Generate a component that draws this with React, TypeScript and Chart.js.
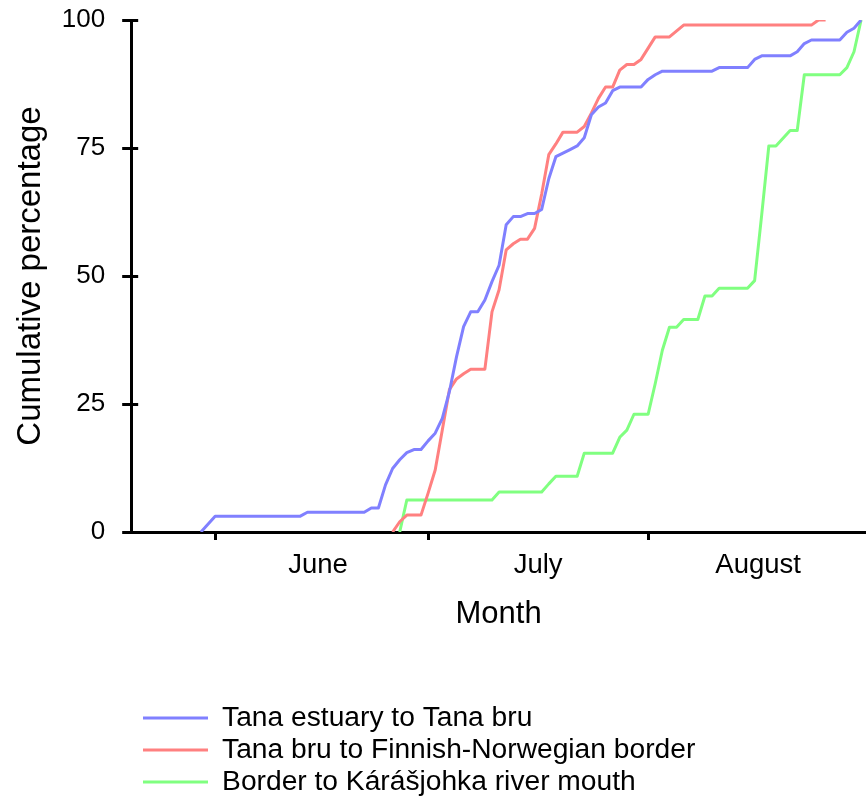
import React, { useEffect, useRef } from 'react';
import { Chart, registerables } from 'chart.js';

Chart.register(...registerables);

// ---- Data (days counted from 1 June = 0) ----
const monthStartDays = [0, 30, 61];
const monthLabelDays = [14.5, 45.5, 76.5];
const monthNames = ['June', 'July', 'August'];
const yTickValues = [0, 25, 50, 75, 100];

const seriesNames = [
  'Tana estuary to Tana bru',
  'Tana bru to Finnish-Norwegian border',
  'Border to Kárášjohka river mouth',
];
const seriesColors = ['#8080ff', '#ff8080', '#80ff80'];

const estuaryDays = [-2, 0, 12, 13, 21, 22, 23, 24, 25, 26, 27, 28, 29, 30, 31, 32, 33, 34, 35, 36, 37, 38, 39, 40, 41, 42, 43, 44, 45, 46, 47, 48, 49, 50, 51, 52, 53, 54, 55, 56, 57, 60, 61, 62, 63, 70, 71, 75, 76, 77, 81, 82, 83, 84, 88, 89, 90, 91];
const estuaryPct = [0, 3.1, 3.1, 3.85, 3.85, 4.7, 4.7, 9.2, 12.4, 14.1, 15.5, 16.1, 16.1, 17.8, 19.3, 22.2, 27.4, 34.2, 40.1, 43.0, 43.0, 45.3, 48.9, 52.1, 60.0, 61.6, 61.6, 62.2, 62.2, 63.0, 69.0, 73.3, 74.0, 74.7, 75.4, 77.0, 81.5, 83.0, 83.8, 86.2, 86.9, 86.9, 88.4, 89.3, 90.0, 90.0, 90.7, 90.7, 92.3, 93.0, 93.0, 93.8, 95.4, 96.1, 96.1, 97.6, 98.4, 100];

const bruDays = [25, 26, 27, 29, 30, 31, 32, 33, 34, 35, 36, 38, 39, 40, 41, 42, 43, 44, 45, 46, 47, 48, 49, 51, 52, 53, 54, 55, 56, 57, 58, 59, 60, 61, 62, 64, 66, 84, 85, 86];
const bruPct = [0, 2.0, 3.3, 3.3, 7.6, 12.1, 19.9, 27.8, 29.9, 30.9, 31.8, 31.8, 43.0, 47.3, 55.1, 56.3, 57.2, 57.2, 59.3, 66.0, 73.7, 75.8, 78.1, 78.1, 79.2, 81.8, 84.7, 86.9, 86.9, 90.2, 91.3, 91.3, 92.3, 94.5, 96.7, 96.7, 99.0, 99.0, 100, 100];

const borderDays = [26, 27, 39, 40, 46, 47, 48, 51, 52, 56, 57, 58, 59, 61, 62, 63, 64, 65, 66, 68, 69, 70, 71, 75, 76, 77, 78, 79, 81, 82, 83, 88, 89, 90, 91];
const borderPct = [0, 6.25, 6.25, 7.8, 7.8, 9.4, 10.9, 10.9, 15.4, 15.4, 18.5, 19.9, 23.0, 23.0, 29.0, 35.5, 40.0, 40.0, 41.5, 41.5, 46.1, 46.1, 47.6, 47.6, 49.1, 62.0, 75.4, 75.4, 78.4, 78.4, 89.3, 89.3, 90.7, 93.8, 100];

// ---- Layout constants ----
const X_MIN = -11.83;
const X_MAX = 91.69;
const FONT = "'Liberation Sans', Arial, Helvetica, sans-serif";
const LEGEND_LINE_LEFT = 143;
const LEGEND_FIRST_ROW_CENTER = 718;

const toPoints = (xs: number[], ys: number[]) => xs.map((x, i) => ({ x, y: ys[i] }));

const legendPlacement = {
  id: 'legendPlacement',
  afterLayout(chart: any) {
    const lg = chart.legend;
    if (!lg) return;
    const pad = lg.options.labels.padding;
    const fs = lg.options.labels.font.size;
    lg.left = LEGEND_LINE_LEFT - pad;
    lg.top = LEGEND_FIRST_ROW_CENTER - pad - fs / 2;
  },
};

const innerYTicks = {
  id: 'innerYTicks',
  afterDraw(chart: any) {
    const y = chart.scales.y;
    const { left } = chart.chartArea;
    const ctx = chart.ctx;
    ctx.save();
    ctx.strokeStyle = '#000';
    ctx.lineWidth = 3;
    ctx.beginPath();
    y.ticks.forEach((t: any) => {
      const p = y.getPixelForValue(t.value);
      const py = Math.round(p - 1.5) + 1.5;
      ctx.moveTo(left, py);
      ctx.lineTo(left + 7, py);
    });
    ctx.stroke();
    ctx.restore();
  },
};

export default function App() {
  const ref = useRef<HTMLCanvasElement>(null);

  useEffect(() => {
    const canvas = ref.current;
    if (!canvas) return;
    Chart.defaults.font.family = FONT;
    Chart.defaults.color = '#000';

    const dayLists = [estuaryDays, bruDays, borderDays];
    const pctLists = [estuaryPct, bruPct, borderPct];

    const chart = new Chart(canvas, {
      type: 'line',
      data: {
        datasets: seriesNames.map((name, i) => ({
          label: name,
          data: toPoints(dayLists[i], pctLists[i]),
          borderColor: seriesColors[i],
          backgroundColor: seriesColors[i],
          borderWidth: 3,
          pointRadius: 0,
          pointHoverRadius: 0,
          tension: 0,
          fill: false,
          borderJoinStyle: 'round' as const,
        })),
      },
      options: {
        animation: false,
        responsive: false,
        maintainAspectRatio: false,
        events: [],
        layout: { padding: { top: 20, right: 0, left: 0, bottom: 0 } },
        plugins: {
          tooltip: { enabled: false },
          legend: {
            position: 'bottom',
            align: 'start',
            labels: {
              usePointStyle: true,
              pointStyle: 'line',
              pointStyleWidth: 65,
              padding: 3.8,
              font: { size: 28.2, family: FONT },
              color: '#000',
            },
          },
        },
        scales: {
          x: {
            type: 'linear',
            position: 'bottom',
            min: X_MIN,
            max: X_MAX,
            weight: 0,
            border: { display: true, color: '#000', width: 3 },
            grid: { display: true, drawOnChartArea: false, drawTicks: true, tickLength: 8, color: '#000', lineWidth: 3 },
            ticks: { display: false },
            afterBuildTicks: (axis: any) => {
              axis.ticks = monthStartDays.map((v) => ({ value: v }));
            },
          },
          xLabels: {
            type: 'linear',
            axis: 'x',
            position: 'bottom',
            min: X_MIN,
            max: X_MAX,
            weight: 1,
            border: { display: false },
            grid: { display: false, drawTicks: false },
            ticks: {
              autoSkip: false,
              maxRotation: 0,
              padding: 8.5,
              font: { size: 27.5, family: FONT },
              color: '#000',
              callback: (_v: any, i: number) => monthNames[i],
            },
            afterBuildTicks: (axis: any) => {
              axis.ticks = monthLabelDays.map((v) => ({ value: v }));
            },
            title: {
              display: true,
              text: 'Month',
              color: '#000',
              font: { size: 31, family: FONT },
              padding: { top: 5.4, bottom: 61.4 },
            },
          },
          y: {
            type: 'linear',
            min: 0,
            max: 100,
            border: { display: true, color: '#000', width: 3 },
            grid: { display: true, drawOnChartArea: false, drawTicks: true, tickLength: 9, color: '#000', lineWidth: 3 },
            ticks: {
              padding: 17,
              font: { size: 26, family: FONT, lineHeight: 0.1 },
              color: '#000',
            },
            afterBuildTicks: (axis: any) => {
              axis.ticks = yTickValues.map((v) => ({ value: v }));
            },
            title: {
              display: true,
              text: 'Cumulative percentage',
              color: '#000',
              font: { size: 33, family: FONT },
              padding: { top: 11.2, bottom: -6 },
            },
          },
        },
      },
      plugins: [legendPlacement, innerYTicks],
    } as any);

    return () => chart.destroy();
  }, []);

  return (
    <div style={{ position: 'absolute', left: 0, top: 0, width: 866, height: 800, overflow: 'hidden', background: '#fff' }}>
      <canvas ref={ref} width={866} height={800} style={{ display: 'block', width: 866, height: 800 }} />
    </div>
  );
}
